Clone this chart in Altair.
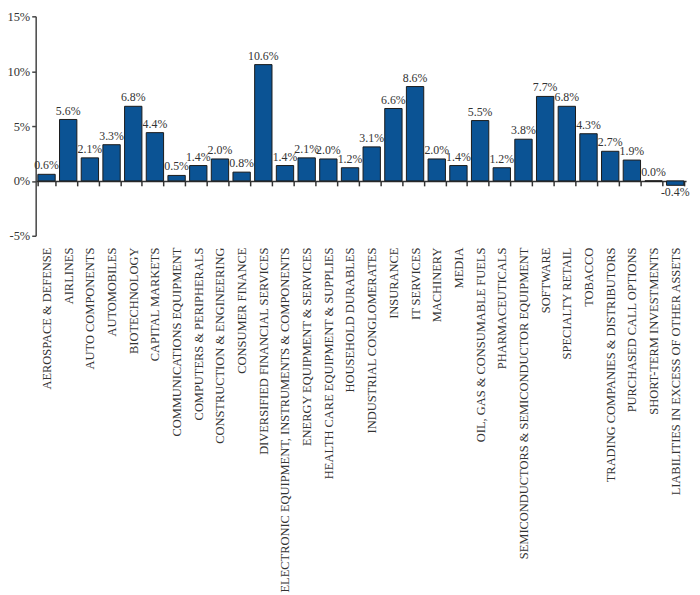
import altair as alt
import pandas as pd

categories = [
    "AEROSPACE & DEFENSE", "AIRLINES", "AUTO COMPONENTS", "AUTOMOBILES",
    "BIOTECHNOLOGY", "CAPITAL MARKETS", "COMMUNICATIONS EQUIPMENT",
    "COMPUTERS & PERIPHERALS", "CONSTRUCTION & ENGINEERING", "CONSUMER FINANCE",
    "DIVERSIFIED FINANCIAL SERVICES",
    "ELECTRONIC EQUIPMENT, INSTRUMENTS & COMPONENTS",
    "ENERGY EQUIPMENT & SERVICES", "HEALTH CARE EQUIPMENT & SUPPLIES",
    "HOUSEHOLD DURABLES", "INDUSTRIAL CONGLOMERATES", "INSURANCE", "IT SERVICES",
    "MACHINERY", "MEDIA", "OIL, GAS & CONSUMABLE FUELS", "PHARMACEUTICALS",
    "SEMICONDUCTORS & SEMICONDUCTOR EQUIPMENT", "SOFTWARE", "SPECIALTY RETAIL",
    "TOBACCO", "TRADING COMPANIES & DISTRIBUTORS", "PURCHASED CALL OPTIONS",
    "SHORT-TERM INVESTMENTS", "LIABILITIES IN EXCESS OF OTHER ASSETS",
]
values = [0.6, 5.6, 2.1, 3.3, 6.8, 4.4, 0.5, 1.4, 2.0, 0.8,
          10.6, 1.4, 2.1, 2.0, 1.2, 3.1, 6.6, 8.6, 2.0, 1.4,
          5.5, 1.2, 3.8, 7.7, 6.8, 4.3, 2.7, 1.9, 0.0, -0.4]
y_ticks = [-5, 0, 5, 10, 15]

df = pd.DataFrame({"category": categories, "value": values})
df["label"] = [f"{v:.1f}%" for v in values]

FONT = "Liberation Serif"
TXT = "#333333"
H = 222
W = 658

x = alt.X(
    "category:N", sort=None, title=None,
    scale=alt.Scale(paddingInner=0.2, paddingOuter=0.1),
    axis=alt.Axis(
        labelAngle=-90, labelFont=FONT, labelFontSize=12.6, labelColor=TXT,
        labelLimit=400, offset=-H / 4, tickBand="extent", tickSize=5,
        tickColor="#333333", tickWidth=1.5, domainColor="#333333",
        domainWidth=1.5, labelPadding=62,
    ),
)
y = alt.Y(
    "value:Q", title=None,
    scale=alt.Scale(domain=[-5, 15], nice=False, zero=False),
    axis=alt.Axis(
        values=y_ticks, labelExpr="datum.value + '%'", grid=False,
        labelFont=FONT, labelFontSize=12.6, labelColor=TXT, tickSize=4,
        tickColor="#444444", tickWidth=1.5, domainColor="#444444",
        domainWidth=1.5, labelPadding=2,
    ),
)

bars = alt.Chart(df).mark_bar(
    color="#0b5394", stroke="#1a1a1a", strokeWidth=1
).encode(x=x, y=y)

pos = alt.Chart(df).transform_filter("datum.value >= 0").mark_text(
    baseline="bottom", dy=-2, font=FONT, fontSize=12, color=TXT
).encode(x=alt.X("category:N", sort=None), y="value:Q", text="label:N")

neg = alt.Chart(df).transform_filter("datum.value < 0").mark_text(
    baseline="top", dy=2, font=FONT, fontSize=12, color=TXT
).encode(x=alt.X("category:N", sort=None), y="value:Q", text="label:N")

chart = (bars + pos + neg).properties(
    width=W, height=H,
    autosize=alt.AutoSizeParams(type="none"),
    padding={"left": 28, "top": 5, "right": 6, "bottom": 360},
).configure_view(stroke=None)

chart.save("out.html", embed_options={"renderer": "svg", "actions": False})
